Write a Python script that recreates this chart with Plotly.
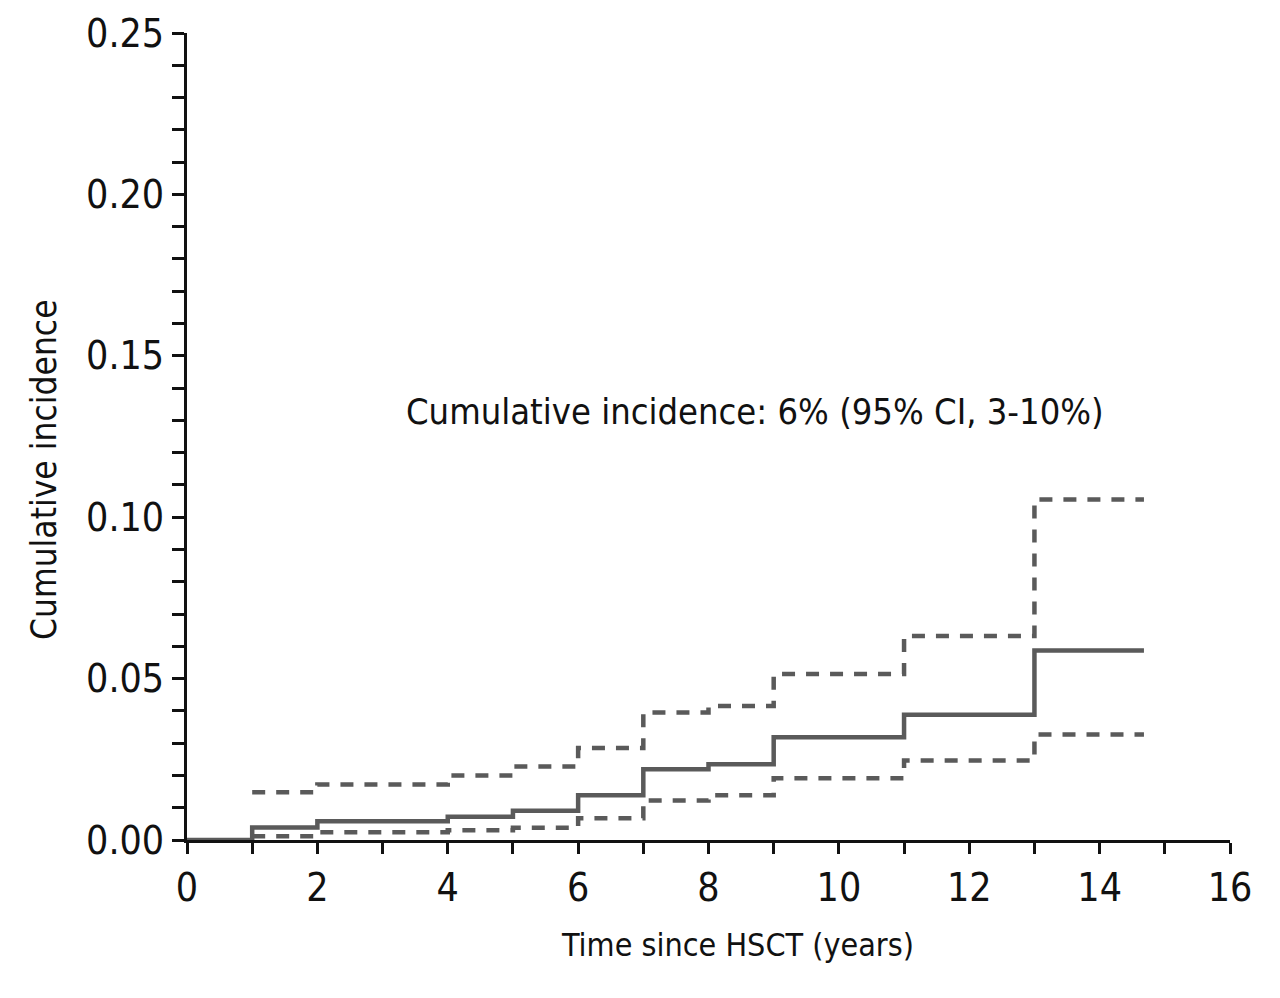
import plotly.graph_objects as go

# Step times (years) and cumulative incidence values
est_x = [0, 1, 2, 4, 5, 6, 7, 8, 9, 11, 13, 14.68]
est_y = [0.0, 0.0039, 0.0058, 0.0072, 0.0091, 0.0139, 0.0219, 0.0235, 0.0318, 0.0388, 0.0587, 0.0587]

ci_x = [1, 2, 4, 5, 6, 7, 8, 9, 11, 13, 14.68]
upper_y = [0.0148, 0.0172, 0.0200, 0.0228, 0.0285, 0.0395, 0.0415, 0.0514, 0.0632, 0.1055, 0.1055]
lower_y = [0.0012, 0.0024, 0.0030, 0.0038, 0.0067, 0.0122, 0.0139, 0.0191, 0.0246, 0.0327, 0.0327]

x_ticks = [0, 2, 4, 6, 8, 10, 12, 14, 16]
y_ticks = [0.00, 0.05, 0.10, 0.15, 0.20, 0.25]
y_tick_labels = ["0.00", "0.05", "0.10", "0.15", "0.20", "0.25"]

annotation_text = "Cumulative incidence: 6% (95% CI, 3-10%)"
x_title = "Time since HSCT (years)"
y_title = "Cumulative incidence"

FONT = "DejaVu Sans Condensed, DejaVu Sans, sans-serif"
LINE = "#5a5a5a"
INK = "#111111"

fig = go.Figure()
fig.add_trace(go.Scatter(x=est_x, y=est_y, mode="lines", line_shape="hv",
                         line=dict(color=LINE, width=4.5), showlegend=False))
fig.add_trace(go.Scatter(x=ci_x, y=upper_y, mode="lines", line_shape="hv",
                         line=dict(color=LINE, width=4.5, dash="13px,11px"), showlegend=False))
fig.add_trace(go.Scatter(x=ci_x, y=lower_y, mode="lines", line_shape="hv",
                         line=dict(color=LINE, width=4.5, dash="13px,11px"), showlegend=False))

fig.add_annotation(x=8.71, y=0.1326, text=annotation_text, showarrow=False,
                   font=dict(family=FONT, size=36, color=INK), xanchor="center", yanchor="middle")

# Axis titles placed as paper annotations to match their offset positions
fig.add_annotation(xref="paper", yref="paper", x=(737 - 187) / 1043, y=-(945 - 840) / 807,
                   text=x_title, showarrow=False, xanchor="center", yanchor="middle",
                   font=dict(family=FONT, size=32, color=INK))
fig.add_annotation(xref="paper", yref="paper", x=-(187 - 44) / 1043, y=(840 - 470) / 807,
                   text=y_title, showarrow=False, textangle=-90, xanchor="center", yanchor="middle",
                   font=dict(family=FONT, size=35, color=INK))

# page body adds an 8px offset, so margins are reduced on the left/top
fig.update_layout(
    width=1280, height=998,
    margin=dict(l=179, r=58, t=25, b=166, autoexpand=False),
    paper_bgcolor="white", plot_bgcolor="white",
    font=dict(family=FONT, color=INK),
)
fig.update_xaxes(
    range=[0, 16], tickvals=x_ticks, ticktext=[str(v) for v in x_ticks], automargin=False,
    showgrid=False, zeroline=False, showline=True, linecolor=INK, linewidth=3,
    ticks="outside", ticklen=11, tickwidth=2.5, tickcolor=INK,
    minor=dict(dtick=1, ticks="outside", ticklen=11, tickwidth=2.5, tickcolor=INK, showgrid=False),
    tickfont=dict(family=FONT, size=39, color=INK),
)
fig.update_yaxes(
    range=[0, 0.25], tickvals=y_ticks, ticktext=y_tick_labels, automargin=False,
    showgrid=False, zeroline=False, showline=True, linecolor=INK, linewidth=3,
    ticks="outside", ticklen=12, tickwidth=2.5, tickcolor=INK,
    minor=dict(dtick=0.01, ticks="outside", ticklen=12, tickwidth=2.5, tickcolor=INK, showgrid=False),
    tickfont=dict(family=FONT, size=39, color=INK),
)

fig.write_html("out.html")
